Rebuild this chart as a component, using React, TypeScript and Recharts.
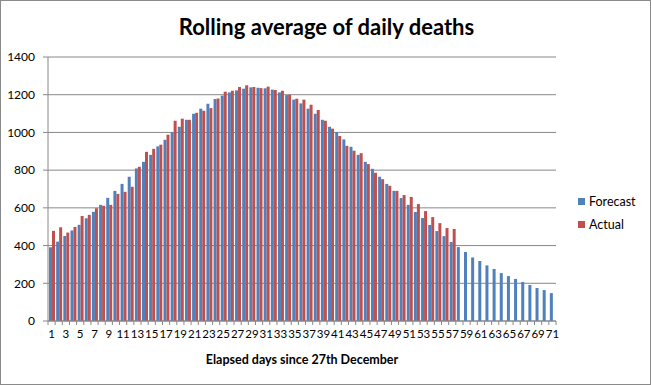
import React from "react";
import { BarChart, Bar, XAxis, YAxis, CartesianGrid } from "recharts";

const days: number[] = Array.from({ length: 71 }, (_, i) => i + 1);

const forecast: number[] = [
  391, 421, 451, 480, 510, 545, 579, 616, 653, 690, 727, 765, 809, 844, 881, 926, 961, 1000,
  1030, 1067, 1099, 1126, 1152, 1177, 1195, 1212, 1223, 1232, 1239, 1237, 1234, 1227, 1212,
  1198, 1174, 1154, 1126, 1099, 1067, 1030, 1002, 963, 924, 881, 844, 807, 765, 727, 690, 652,
  616, 578, 546, 509, 477, 450, 419, 392, 366, 337, 318, 295, 276, 254, 238, 223, 207, 191, 175,
  164, 148,
];

const actual: (number | null)[] = [
  478, 497, 469, 499, 557, 563, 598, 611, 616, 674, 685, 712, 818, 897, 913, 935, 988, 1062,
  1073, 1067, 1104, 1115, 1129, 1180, 1216, 1221, 1241, 1250, 1241, 1235, 1243, 1225, 1221,
  1200, 1179, 1174, 1147, 1119, 1062, 1020, 981, 929, 903, 890, 832, 786, 752, 717, 690, 668,
  658, 620, 583, 551, 519, 493, 488,
];

const yTicks: number[] = [0, 200, 400, 600, 800, 1000, 1200, 1400];

const data = days.map((d, i) => ({
  day: d,
  Forecast: forecast[i],
  Actual: i < actual.length ? actual[i] : null,
}));

const W = 651;
const H = 385;
const PLOT_LEFT = 48;
const PLOT_RIGHT = 556;
const FONT = "Lato, 'Open Sans', sans-serif";
const BLUE = "#4F81BD";
const RED = "#C0504D";
const GRID = "#888888";

const BAND = (PLOT_RIGHT - PLOT_LEFT) / days.length;

const XTick = (props: any) => {
  const { x, y, payload, index } = props;
  const axisY = y - 9;
  const half = BAND / 2;
  return (
    <g>
      <line x1={x - half} y1={axisY} x2={x - half} y2={axisY + 4} stroke={GRID} />
      {index === days.length - 1 && (
        <line x1={x + half} y1={axisY} x2={x + half} y2={axisY + 4} stroke={GRID} />
      )}
      {index % 2 === 0 && (
        <text x={x} y={y} dy="0.71em" textAnchor="middle" fill="#000" fontSize={11.5} fontFamily={FONT}>
          {payload.value}
        </text>
      )}
    </g>
  );
};

export default function App() {
  return (
    <div
      style={{
        position: "absolute",
        left: 0,
        top: 0,
        width: W,
        height: H,
        boxSizing: "border-box",
        border: "1px solid #8a8a8a",
        background: "#fff",
        fontFamily: FONT,
      }}
    >
      <div
        style={{
          position: "absolute",
          left: 0,
          width: W,
          top: 12,
          textAlign: "center",
          fontWeight: 700,
          fontSize: 22,
          color: "#000",
        }}
      >
        Rolling average of daily deaths
      </div>
      <div style={{ position: "absolute", left: -1, top: -1 }}>
        <BarChart
          width={W}
          height={H}
          data={data}
          margin={{ top: 57, right: W - PLOT_RIGHT, bottom: 0, left: 0 }}
          barGap={0}
        >
          <CartesianGrid vertical={false} stroke={GRID} strokeWidth={1} />
          <XAxis
            dataKey="day"
            interval={0}
            height={64}
            tickSize={5}
            tickMargin={4}
            tickLine={false}
            stroke={GRID}
            tick={<XTick />}
            label={{
              value: "Elapsed days since 27th December",
              position: "insideBottom",
              offset: 21,
              style: { fontWeight: 700, fontSize: 12.5, fill: "#000", fontFamily: FONT },
            }}
          />
          <YAxis
            width={PLOT_LEFT}
            domain={[0, 1400]}
            ticks={yTicks}
            interval={0}
            tickSize={5}
            tickMargin={8}
            stroke={GRID}
            tick={{ fill: "#000", fontSize: 12, fontFamily: FONT }}
          />
          <Bar dataKey="Forecast" fill={BLUE} barSize={3} isAnimationActive={false} />
          <Bar dataKey="Actual" fill={RED} barSize={3} isAnimationActive={false} />
        </BarChart>
      </div>
      <div style={{ position: "absolute", left: 577, top: 192, fontSize: 12.5, color: "#000" }}>
        <div style={{ display: "flex", alignItems: "center", height: 16 }}>
          <span style={{ display: "inline-block", width: 7, height: 7, background: BLUE, marginRight: 4 }} />
          Forecast
        </div>
        <div style={{ display: "flex", alignItems: "center", height: 16, marginTop: 7 }}>
          <span style={{ display: "inline-block", width: 7, height: 7, background: RED, marginRight: 4 }} />
          Actual
        </div>
      </div>
    </div>
  );
}
